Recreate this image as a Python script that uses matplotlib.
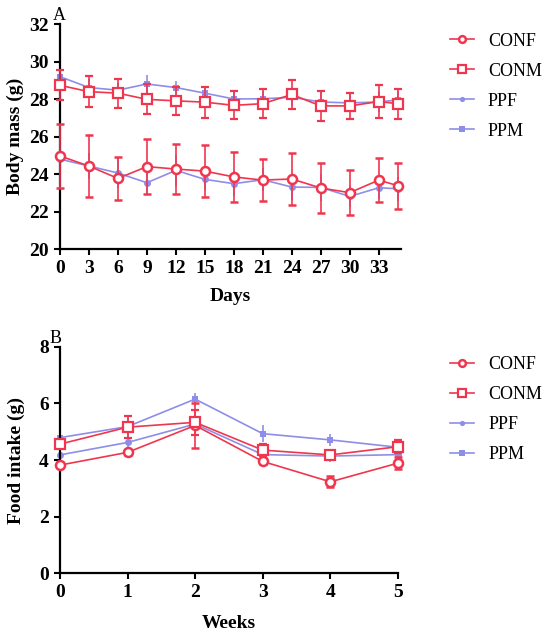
import matplotlib
matplotlib.use("Agg")
import matplotlib.pyplot as plt
import numpy as np
from matplotlib.lines import Line2D

plt.rcParams["font.family"] = ["Liberation Serif", "DejaVu Serif"]

RED = "#f0364e"
BLUE = "#8e8ee8"

# Panel A: body mass (g) by day
days = [0, 3, 6, 9, 12, 15, 18, 21, 24, 27, 30, 33, 35]
conf_mass = [24.97, 24.43, 23.77, 24.40, 24.27, 24.16, 23.85, 23.68, 23.74, 23.26, 23.01, 23.68, 23.38]
conf_mass_err = [1.72, 1.65, 1.14, 1.46, 1.35, 1.40, 1.35, 1.13, 1.40, 1.32, 1.20, 1.17, 1.22]
conm_mass = [28.74, 28.40, 28.32, 27.99, 27.91, 27.84, 27.67, 27.76, 28.25, 27.64, 27.64, 27.87, 27.76]
conm_mass_err = [0.80, 0.83, 0.78, 0.80, 0.74, 0.83, 0.74, 0.78, 0.76, 0.78, 0.70, 0.88, 0.80]
ppf_mass = [24.80, 24.43, 24.06, 23.54, 24.20, 23.72, 23.49, 23.70, 23.31, 23.29, 22.81, 23.27, 23.22]
ppf_mass_err = [0.70, 0.70, 0.80, 0.55, 0.82, 0.58, 0.65, 0.60, 0.68, 0.72, 0.58, 0.62, 0.65]
ppm_mass = [29.20, 28.62, 28.48, 28.81, 28.62, 28.32, 28.01, 28.02, 28.10, 27.85, 27.80, 27.85, 27.96]
ppm_mass_err = [0.50, 0.45, 0.40, 0.50, 0.37, 0.38, 0.40, 0.40, 0.45, 0.55, 0.50, 0.55, 0.50]

# Panel B: food intake (g) by week
weeks = [0, 1, 2, 3, 4, 5]
conf_food = [3.82, 4.27, 5.22, 3.95, 3.23, 3.89]
conf_food_err = [0.08, 0.08, 0.78, 0.10, 0.20, 0.22]
conm_food = [4.56, 5.16, 5.33, 4.35, 4.18, 4.47]
conm_food_err = [0.10, 0.40, 0.45, 0.22, 0.15, 0.23]
ppf_food = [4.18, 4.62, 5.27, 4.19, 4.14, 4.19]
ppf_food_err = [0.10, 0.15, 0.25, 0.08, 0.22, 0.08]
ppm_food = [4.79, 5.18, 6.15, 4.93, 4.71, 4.45]
ppm_food_err = [0.20, 0.35, 0.23, 0.30, 0.20, 0.15]

groups = ["CONF", "CONM", "PPF", "PPM"]
styles = {
    "CONF": dict(color=RED, marker="o", mfc="white", ms=6.5, mew=1.8),
    "CONM": dict(color=RED, marker="s", mfc="white", ms=7, mew=1.6),
    "PPF": dict(color=BLUE, marker="o", mfc=BLUE, ms=5, mew=0),
    "PPM": dict(color=BLUE, marker="s", mfc=BLUE, ms=5, mew=0),
}
order = ["PPF", "PPM", "CONF", "CONM"]

label_font = dict(fontsize=14, fontweight="bold")


def style_axes(ax):
    for side in ["top", "right"]:
        ax.spines[side].set_visible(False)
    for side in ["left", "bottom"]:
        ax.spines[side].set_linewidth(1.6)
    ax.tick_params(width=1.5, length=4.5, labelsize=14, direction="out")
    for lab in ax.get_xticklabels() + ax.get_yticklabels():
        lab.set_fontweight("bold")


def draw(ax, x, data):
    for g in order:
        y, err = data[g]
        st = styles[g]
        ax.errorbar(x, y, yerr=err, color=st["color"], marker=st["marker"],
                    mfc=st["mfc"], mec=st["color"], ms=st["ms"], mew=st["mew"],
                    lw=1.2, elinewidth=1.2, capsize=3, capthick=1.2,
                    zorder=3 if st["color"] == RED else 2, clip_on=False)


def add_legend(ax, anchor):
    handles = []
    for g in groups:
        st = styles[g]
        ms = st["ms"] * 0.75
        handles.append(Line2D([], [], color=st["color"], marker=st["marker"],
                              mfc=st["mfc"], mec=st["color"], ms=ms,
                              mew=st["mew"], lw=1.2))
    ax.legend(handles, groups, loc="upper left", bbox_to_anchor=anchor,
              frameon=False, fontsize=13, handlelength=1.3, labelspacing=0.72,
              handletextpad=0.8, borderaxespad=0, borderpad=0)


fig = plt.figure(figsize=(5.5, 6.37), dpi=100)

ax1 = fig.add_axes([0.109, 0.609, 0.62, 0.353])
draw(ax1, days, {
    "CONF": (conf_mass, conf_mass_err),
    "CONM": (conm_mass, conm_mass_err),
    "PPF": (ppf_mass, ppf_mass_err),
    "PPM": (ppm_mass, ppm_mass_err),
})
ax1.set_xlim(0, 35.3)
ax1.set_ylim(20, 32)
ax1.set_xticks(np.arange(0, 34, 3))
ax1.set_yticks(np.arange(20, 33, 2))
style_axes(ax1)
ax1.set_xlabel("Days", labelpad=8, **label_font)
ax1.set_ylabel("Body mass (g)", labelpad=4, **label_font)
ax1.text(-0.02, 1.0, "A", transform=ax1.transAxes, fontsize=13, ha="left", va="bottom")
add_legend(ax1, (1.144, 0.963))

ax2 = fig.add_axes([0.109, 0.100, 0.6145, 0.3557])
draw(ax2, weeks, {
    "CONF": (conf_food, conf_food_err),
    "CONM": (conm_food, conm_food_err),
    "PPF": (ppf_food, ppf_food_err),
    "PPM": (ppm_food, ppm_food_err),
})
ax2.set_xlim(0, 5)
ax2.set_ylim(0, 8)
ax2.set_xticks(weeks)
ax2.set_yticks(np.arange(0, 9, 2))
style_axes(ax2)
ax2.set_xlabel("Weeks", labelpad=10, **label_font)
ax2.set_ylabel("Food intake (g)", labelpad=10, **label_font)
ax2.text(-0.03, 1.0, "B", transform=ax2.transAxes, fontsize=13, ha="left", va="bottom")
add_legend(ax2, (1.155, 0.958))

fig.savefig("out.png", dpi=100, facecolor="white")
